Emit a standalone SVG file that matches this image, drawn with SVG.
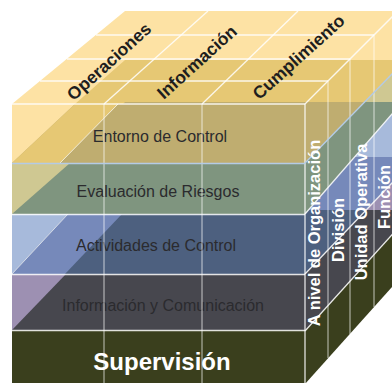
<svg xmlns="http://www.w3.org/2000/svg" width="392" height="383" viewBox="0 0 392 383">
<defs>
<style>
.lbl{font-family:"Liberation Sans",Arial,sans-serif;font-size:16px;fill:#2b2b2e;text-anchor:middle}
.top{font-family:"Liberation Sans",Arial,sans-serif;font-size:17.5px;font-weight:bold;fill:#1e1e1e;text-anchor:middle}
.side{font-family:"Liberation Sans",Arial,sans-serif;font-size:16.5px;font-weight:bold;fill:#ffffff;text-anchor:middle}
.sup{font-family:"Liberation Sans",Arial,sans-serif;font-size:24px;font-weight:bold;fill:#ffffff;text-anchor:middle}
.w{stroke:#ffffff;stroke-width:1.3;fill:none;opacity:.85}
.wt{stroke:#ffffff;stroke-width:1;fill:none;opacity:.7}
.bl{stroke:#b4cbe6;stroke-width:1.3;fill:none}
</style>
<clipPath id="cE"><polygon points="305,104 400,9 400,65.8 305,163"/></clipPath>
<clipPath id="cV"><polygon points="305,163 400,65.8 400,104.8 305,214"/></clipPath>
<clipPath id="cA"><polygon points="305,214 400,104.8 400,174.6 305,274"/></clipPath>
<clipPath id="cI"><polygon points="305,274 400,174.6 400,226 305,331"/></clipPath>
<clipPath id="cS"><polygon points="305,331 400,226 400,278 305,384"/></clipPath>
</defs>
<rect width="392" height="383" fill="#ffffff"/>

<g id="top-face">
<polygon points="12,104 125,11 398,11 305,104" fill="#fde2a4"/>
<polygon points="75,104 125,60 349,60 305,104" fill="#e6c874"/>
<polygon points="123,104 125,102 307,102 305,104" fill="#bfad70"/>
</g>

<g id="entorno">
<rect x="12" y="104" width="293" height="59" fill="#bfad70"/>
<polygon points="12,104 75,104 12,163" fill="#fde2a4"/>
<polygon points="75,104 118,104 60,163 12,163" fill="#e6c874"/>
<g clip-path="url(#cE)"><rect x="300" y="0" width="100" height="400" fill="#bfad70"/><rect x="300" y="0" width="100" height="60" fill="#fde2a4"/><rect x="300" y="60" width="100" height="42" fill="#e6c874"/></g>
<text class="lbl" x="160" y="142">Entorno de Control</text>
</g>

<g id="evaluacion">
<rect x="12" y="163" width="293" height="51" fill="#7f957f"/>
<polygon points="12,163 70,163 12,214" fill="#cfc892"/>
<g clip-path="url(#cV)"><rect x="300" y="0" width="100" height="400" fill="#7f957f"/><rect x="300" y="0" width="100" height="102" fill="#cfc892"/></g>
<text class="lbl" x="158" y="197">Evaluación de Riesgos</text>
</g>

<g id="actividades">
<rect x="12" y="214" width="293" height="60" fill="#4d607f"/>
<polygon points="12,214 68,214 12,274" fill="#a7badb"/>
<polygon points="68,214 122,214 65,274 12,274" fill="#7689ba"/>
<g clip-path="url(#cA)"><rect x="300" y="0" width="100" height="400" fill="#4d607f"/><rect x="300" y="0" width="100" height="157" fill="#a7badb"/><rect x="300" y="157" width="100" height="53" fill="#7689ba"/></g>
<text class="lbl" x="156" y="251">Actividades de Control</text>
</g>

<g id="informacion">
<rect x="12" y="274" width="293" height="56" fill="#47474e"/>
<polygon points="12,274 66,274 12,330" fill="#9d90b2"/>
<g clip-path="url(#cI)"><rect x="300" y="0" width="100" height="400" fill="#47474e"/><rect x="300" y="0" width="100" height="210" fill="#9d90b2"/></g>
<text class="lbl" x="163" y="311">Información y Comunicación</text>
</g>

<g id="supervision">
<rect x="12" y="330" width="293" height="54" fill="#3a3f1d"/>
<g clip-path="url(#cS)"><rect x="300" y="0" width="100" height="400" fill="#3a3f1d"/></g>
<text class="sup" x="162" y="370">Supervisión</text>
</g>

<g id="grid">
<line class="wt" x1="60" y1="163" x2="118" y2="104" stroke="#b4cbe6"/>
<line class="wt" x1="12" y1="274" x2="68" y2="214" opacity=".45"/>
<line class="w" x1="12" y1="104" x2="305" y2="104"/>
<line class="w" x1="40" y1="81" x2="328" y2="81"/>
<line class="w" x1="67" y1="59" x2="350" y2="59"/>
<line class="w" x1="96" y1="35" x2="374" y2="35"/>
<line class="w" x1="104" y1="104" x2="208" y2="11"/>
<line class="w" x1="202" y1="104" x2="298" y2="11"/>
<line class="w" x1="305" y1="104" x2="398" y2="11"/>
<line class="wt" x1="104" y1="104" x2="104" y2="383"/>
<line class="wt" x1="202" y1="104" x2="202" y2="383"/>
<line class="w" x1="305" y1="104" x2="305" y2="384"/>
<line class="wt" x1="328" y1="81" x2="328" y2="358"/>
<line class="wt" x1="350" y1="59" x2="350" y2="334"/>
<line class="wt" x1="374" y1="35" x2="374" y2="307"/>
<line class="bl" x1="12" y1="163.5" x2="305" y2="163.5"/>
<line class="w" x1="12" y1="214.5" x2="305" y2="214.5"/>
<line class="w" x1="12" y1="274.5" x2="305" y2="274.5"/>
<line class="w" x1="12" y1="330.5" x2="305" y2="330.5"/>
<line class="bl" x1="305" y1="163" x2="400" y2="65.8"/>
<line class="w" x1="305" y1="214" x2="400" y2="104.8"/>
<line class="w" x1="305" y1="274" x2="400" y2="174.6"/>
<line class="w" x1="305" y1="331" x2="400" y2="226"/>
</g>

<g id="objetivos">
<text class="top" transform="translate(113,66) rotate(-42)">Operaciones</text>
<text class="top" transform="translate(201,66.5) rotate(-42)">Información</text>
<text class="top" transform="translate(302.5,61.5) rotate(-42)">Cumplimiento</text>
</g>

<g id="niveles">
<text class="side" transform="translate(320,233) rotate(-90)">A nivel de Organización</text>
<text class="side" transform="translate(344,230) rotate(-90)">División</text>
<text class="side" transform="translate(366.5,212) rotate(-90)">Unidad Operativa</text>
<text class="side" transform="translate(390,197) rotate(-90)">Función</text>
</g>
</svg>
